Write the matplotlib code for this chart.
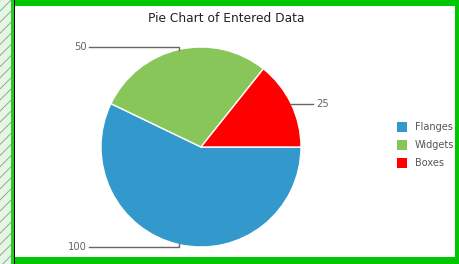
import numpy as np
import matplotlib.pyplot as plt
from matplotlib.patches import Rectangle

# data
labels = ["Flanges", "Widgets", "Boxes"]
values = [100, 50, 25]
colors = ["#3399cc", "#88c65a", "#ff0000"]
title = "Pie Chart of Entered Data"

W, H = 459, 264
fig = plt.figure(figsize=(W / 100, H / 100), dpi=100)

# background frame (pixel coords, y down)
bg = fig.add_axes([0, 0, 1, 1])
bg.set_xlim(0, W)
bg.set_ylim(H, 0)
bg.axis("off")
plt.rcParams["hatch.linewidth"] = 0.6
bg.add_patch(Rectangle((0, 0), 11, H, facecolor="#e4f6e4", edgecolor="#8a9a8a",
                       hatch="///", lw=0))
bg.add_patch(Rectangle((10.5, 0), 3, H, facecolor="#22cc22", lw=0))
bg.add_patch(Rectangle((13.5, 0), 1.5, H, facecolor="#000000", lw=0))
bg.add_patch(Rectangle((15, 0), W - 15, 6, facecolor="#00c800", lw=0))
bg.add_patch(Rectangle((15, 257), W - 15, 7, facecolor="#00c800", lw=0))
bg.add_patch(Rectangle((455, 0), 4, H, facecolor="#00c800", lw=0))

bg.text(226, 18, title, ha="center", va="center", fontsize=8.8, color="#222222")

# pie, centred at (201, 147) px with radius 100 px
cx, cy, r = 201, 147, 100
ax = fig.add_axes([(cx - r) / W, (H - cy - r) / H, 2 * r / W, 2 * r / H])
wedges, _ = ax.pie(values, colors=colors, startangle=0, counterclock=False,
                   radius=1, wedgeprops=dict(edgecolor="white", linewidth=1))
ax.set_xlim(-1, 1)
ax.set_ylim(-1, 1)
ax.set_aspect("auto")
ax.axis("off")

# leader lines and value labels
for w, v in zip(wedges, values):
    mid = np.deg2rad((w.theta1 + w.theta2) / 2)
    x0, y0 = np.cos(mid), np.sin(mid)
    y1 = y0 + 0.03 * np.sign(y0)
    if x0 < 0:
        xe = -1.12
        ax.plot([x0, x0, xe], [y0, y1, y1], color="#666666", lw=1, clip_on=False)
        ax.text(xe - 0.02, y1, str(v), ha="right", va="center", fontsize=7.2,
                color="#666666")
    else:
        xe = 1.12
        ax.plot([x0, xe], [y0, y0], color="#666666", lw=1, clip_on=False)
        ax.text(xe + 0.03, y0, str(v), ha="left", va="center", fontsize=7.2,
                color="#666666")

# legend
ys = [127, 145, 163]
for lab, col, y in zip(labels, colors, ys):
    bg.add_patch(Rectangle((397, y - 5), 10, 10, facecolor=col, lw=0))
    bg.text(415, y, lab, ha="left", va="center", fontsize=7, color="#555555")

fig.savefig("out.png", dpi=100)
